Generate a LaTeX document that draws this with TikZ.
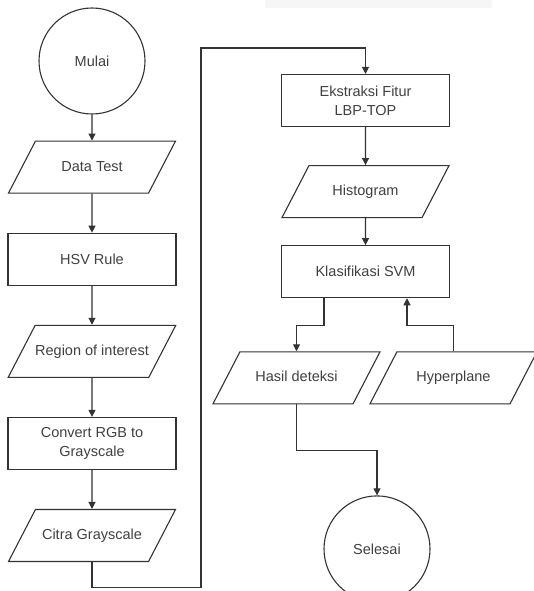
\documentclass[tikz,border=0pt]{standalone}
\usepackage{fontspec}
\setmainfont{Liberation Sans}
\usepackage{tikz}
\usetikzlibrary{shapes.geometric, arrows.meta, positioning, calc}
\definecolor{linegray}{RGB}{51, 51, 51}
\definecolor{textgray}{RGB}{64, 64, 64}

\begin{document}
\begin{tikzpicture}[x=1pt, y=-1pt, >={Triangle[length=7pt, width=7pt]},
    terminal/.style={circle, draw=linegray, line width=1.1pt, minimum size=106pt, inner sep=0pt, font=\fontsize{14.5}{19}\selectfont, text=textgray},
    process/.style={rectangle, draw=linegray, line width=1.1pt, minimum width=168pt, minimum height=52pt, inner sep=0pt, align=center, font=\fontsize{14.5}{19}\selectfont, text=textgray},
    dataio/.style={trapezium, trapezium left angle=62.6, trapezium right angle=117.4, trapezium stretches body=true, draw=linegray, line width=1.1pt, minimum width=167pt, text height=11pt, text depth=3pt, inner ysep=19pt, inner xsep=0pt, font=\fontsize{14.5}{19}\selectfont, text=textgray},
    arrow/.style={line width=1.1pt, ->, color=linegray}]

    \useasboundingbox (0,0) rectangle (533,591);
    \fill[gray!7] (265,0) rectangle (492,8);

    % Left column
    \node[terminal] (mulai) at (92,61) {Mulai};
    \node[dataio, below=26pt of mulai] (datatest) {Data Test};
    \node[process, below=39pt of datatest] (hsv) {HSV Rule};
    \node[dataio, below=39pt of hsv] (roi) {Region of interest};
    \node[process, below=39pt of roi] (convert) {Convert RGB to\\Grayscale};
    \node[dataio, below=39pt of convert] (citra) {Citra Grayscale};

    % Right column
    \node[process] (ekstraksi) at (365.5,100.5) {Ekstraksi Fitur\\LBP-TOP};
    \node[dataio, below=38pt of ekstraksi] (histogram) {Histogram};
    \node[process, below=27pt of histogram] (svm) {Klasifikasi SVM};
    \node[dataio, below=53pt of svm, xshift=-69pt] (hasil) {Hasil deteksi};
    \node[dataio, below=53pt of svm, xshift=88pt] (hyperplane) {Hyperplane};
    \node[terminal, below=91pt of hasil, xshift=80.5pt] (selesai) {Selesai};

    \coordinate (turn) at (201,48);

    % Connections
    \draw[arrow] (mulai) -- (datatest);
    \draw[arrow] (datatest) -- (hsv);
    \draw[arrow] (hsv) -- (roi);
    \draw[arrow] (roi) -- (convert);
    \draw[arrow] (convert) -- (citra);
    \draw[arrow] (citra.south) -- ++(0,25) -| (turn) -| (ekstraksi.north);
    \draw[arrow] (ekstraksi) -- (histogram);
    \draw[arrow] (histogram) -- (svm);
    \draw[arrow] ([xshift=-41.5pt]svm.south) -- ++(0,27) -| (hasil.north);
    \draw[arrow] (hyperplane.north) -- ++(0,-26) -| ([xshift=41.5pt]svm.south);
    \draw[arrow] (hasil.south) -- ++(0,46) -| (selesai.north);
\end{tikzpicture}
\end{document}
